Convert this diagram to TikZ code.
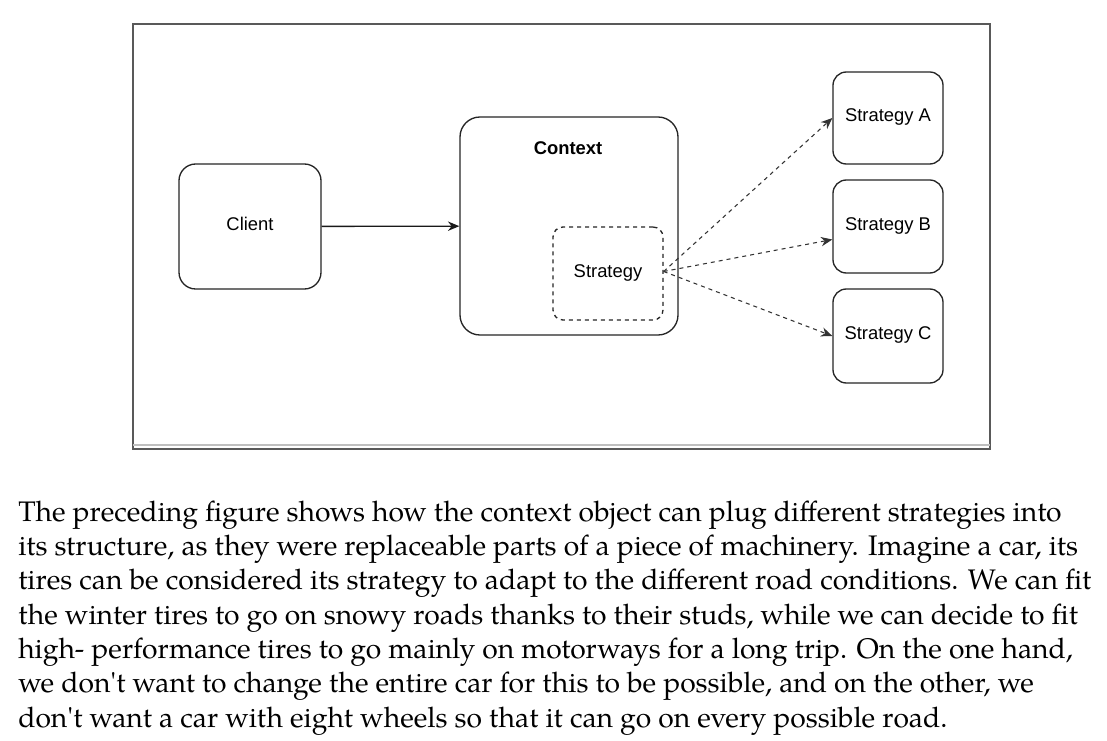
\documentclass[tikz,border=0pt]{standalone}
\usepackage{fontspec}
\setsansfont{Liberation Sans}
\newfontfamily\bodyfont{texgyrepagella-regular.otf}
\usetikzlibrary{arrows.meta}
\begin{document}
\begin{tikzpicture}[x=0.75pt,y=-0.75pt,
  box/.style={draw=black!85, line width=1pt, fill=white, inner sep=0pt,
    font=\sffamily\fontsize{13.8}{16}\selectfont, align=center,
    text height=9pt, text depth=3.5pt},
  dbox/.style={box, dashed, line width=1pt},
  solidarrow/.style={draw=black!90, line width=1pt, -{Stealth[length=8.5pt,width=7pt]}},
  dasharrow/.style={draw=black!80, line width=0.8pt, dashed, -{Stealth[length=8.5pt,width=7pt]}},
  caption/.style={anchor=base west, align=left, inner sep=0pt,
    font=\bodyfont\fontsize{21.2}{25.7}\selectfont}]
\useasboundingbox (0,0) rectangle (1107,741);
\fill[white] (0,0) rectangle (1107,741);
% frame
\draw[black!65, line width=0.8pt] (133,24) rectangle (990,449);
\draw[black!25, line width=0.8pt] (133,445) -- (990,445);
% nodes
\node[box, rounded corners=12.5pt, minimum width=106.5pt, minimum height=93.75pt] (client) at (250,226.5) {Client};
\node[box, rounded corners=15pt, minimum width=163.5pt, minimum height=163.5pt] (ctx) at (569,226) {};
\node[font=\sffamily\bfseries\fontsize{13.8}{16}\selectfont, inner sep=0pt] (ctxlabel) at (568,148) {Context};
\node[dbox, rounded corners=7.5pt, minimum width=82.5pt, minimum height=69.75pt] (sinner) at (608,273.5) {Strategy};
\node[box, rounded corners=10pt, minimum width=82.5pt, minimum height=69pt] (sa) at (888,118) {Strategy A};
\node[box, rounded corners=10pt, minimum width=82.5pt, minimum height=69.75pt] (sb) at (888,226.5) {Strategy B};
\node[box, rounded corners=10pt, minimum width=82.5pt, minimum height=70.5pt] (sc) at (888,336) {Strategy C};
% connectors
\draw[solidarrow] (client) -- (ctx);
\draw[dasharrow] ([yshift=1.5pt]sinner.east) -- (sa.west);
\draw[dasharrow] ([yshift=1.5pt]sinner.east) -- ([yshift=-9.75pt]sb.west);
\draw[dasharrow] ([yshift=1.5pt]sinner.east) -- (sc.west);
% caption
\node[caption] (text) at (18,727) {The preceding figure shows how the context object can plug different strategies into\\
its structure, as they were replaceable parts of a piece of machinery. Imagine a car, its\\
tires can be considered its strategy to adapt to the different road conditions. We can fit\\
the winter tires to go on snowy roads thanks to their studs, while we can decide to fit\\
high- performance tires to go mainly on motorways for a long trip. On the one hand,\\
we don\textquotesingle t want to change the entire car for this to be possible, and on the other, we\\
don\textquotesingle t want a car with eight wheels so that it can go on every possible road.};
\end{tikzpicture}
\end{document}
